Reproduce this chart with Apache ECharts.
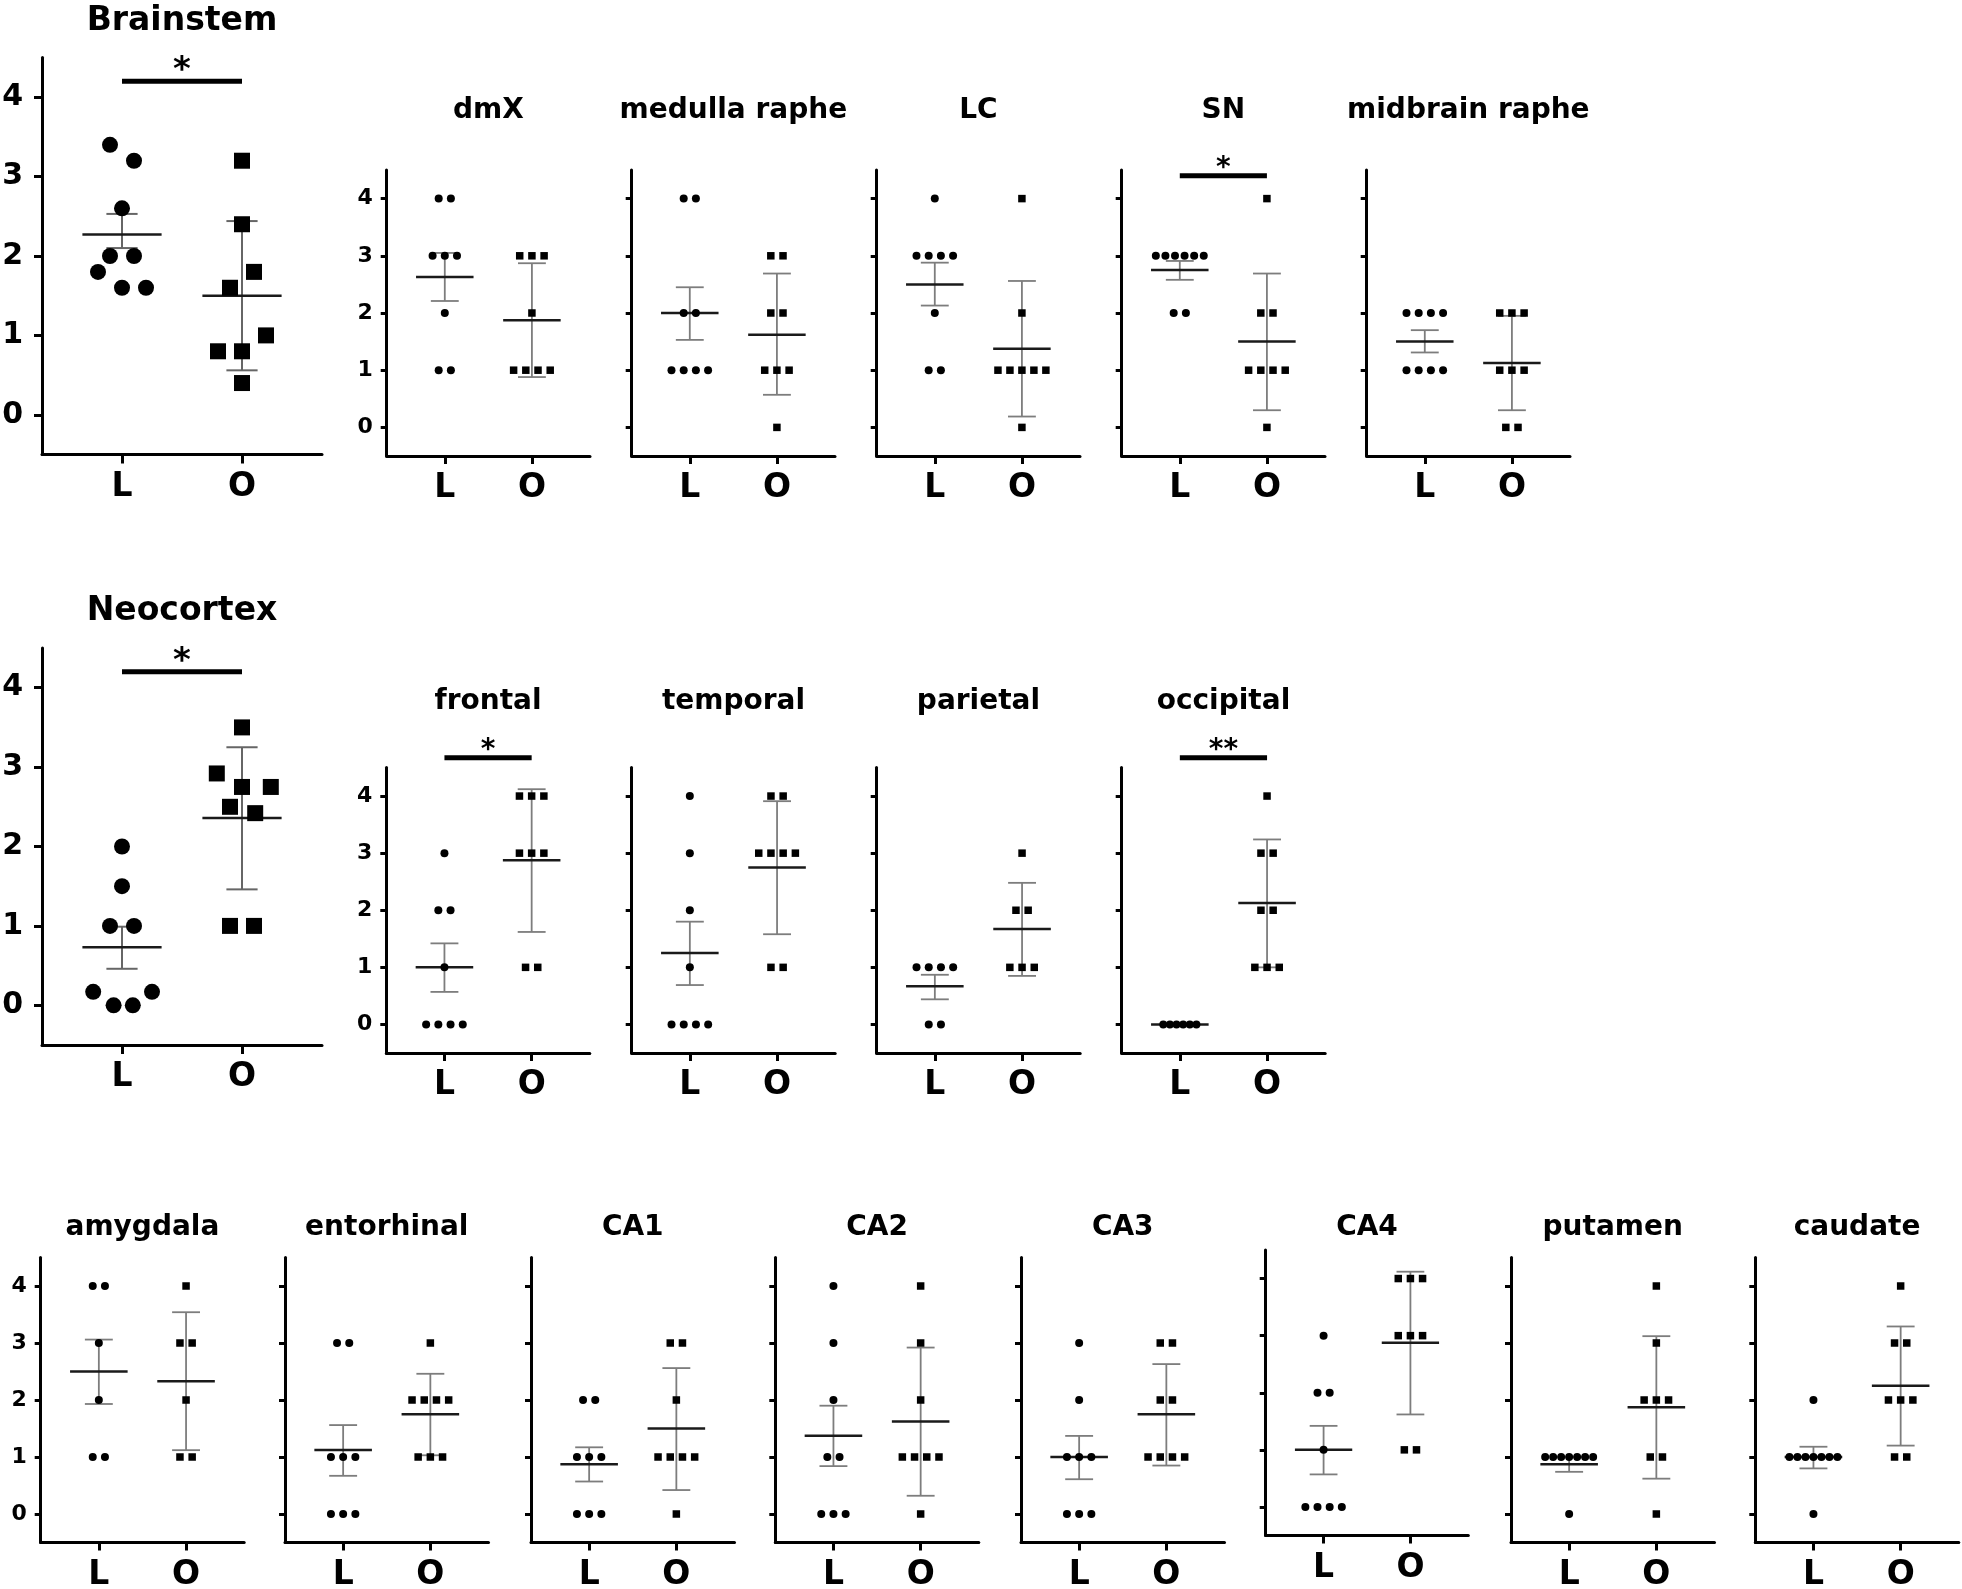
<!DOCTYPE html>
<html><head><meta charset="utf-8">
<script src="https://cdn.jsdelivr.net/npm/echarts@6/dist/echarts.min.js"></script>
<style>html,body{margin:0;padding:0;background:#fff}#chart{width:1962px;height:1589px}</style>
</head><body><div id="chart"></div>
<script>
// ---------- DATA ----------
const groupLabels = ['L', 'O'];
const yTickValues = [0, 1, 2, 3, 4];

// Brainstem (summary)
const brainstemL = [3.4, 3.2, 2.6, 2.0, 2.0, 1.8, 1.6, 1.6];
const brainstemLJitter = [-0.1, 0.1, 0, -0.1, 0.1, -0.2, 0, 0.2];
const brainstemO = [3.2, 2.4, 1.8, 1.6, 1.0, 0.8, 0.8, 0.4];
const brainstemOJitter = [0, 0, 0.1, -0.1, 0.2, -0.2, 0, 0];
const brainstemBars = [[2.27, 2.1, 2.53], [1.5, 0.56, 2.44]];   // [mean, low, high] for L, O
const brainstemSig = [4.2, '*'];

const dmxL = [4, 4, 3, 3, 3, 2, 1, 1];
const dmxO = [3, 3, 3, 2, 1, 1, 1, 1];
const dmxBars = [[2.63, 2.21, 3.05], [1.875, 0.88, 2.87]];

const medullaL = [4, 4, 2, 2, 1, 1, 1, 1];
const medullaO = [3, 3, 2, 2, 1, 1, 1, 0];
const medullaBars = [[2.0, 1.53, 2.45], [1.62, 0.57, 2.69]];

const lcL = [4, 3, 3, 3, 3, 2, 1, 1];
const lcO = [4, 2, 1, 1, 1, 1, 1, 0];
const lcBars = [[2.5, 2.13, 2.88], [1.375, 0.19, 2.56]];

const snL = [3, 3, 3, 3, 3, 3, 2, 2];
const snO = [4, 2, 2, 1, 1, 1, 1, 0];
const snBars = [[2.75, 2.58, 2.91], [1.5, 0.3, 2.69]];
const snSig = [4.4, '*'];

const midbrainL = [2, 2, 2, 2, 1, 1, 1, 1];
const midbrainO = [2, 2, 2, 1, 1, 1, 0, 0];
const midbrainBars = [[1.5, 1.31, 1.70], [1.125, 0.3, 1.95]];

// Neocortex (summary)
const neocortexL = [2.0, 1.5, 1.0, 1.0, 0.17, 0.17, 0, 0];
const neocortexLJitter = [0, 0, -0.1, 0.1, -0.24, 0.25, -0.07, 0.09];
const neocortexO = [3.5, 2.92, 2.75, 2.75, 2.5, 2.42, 1.0, 1.0];
const neocortexOJitter = [0, -0.21, 0, 0.24, -0.1, 0.11, -0.1, 0.1];
const neocortexBars = [[0.73, 0.46, 0.99], [2.36, 1.46, 3.25]];
const neocortexSig = [4.2, '*'];

const frontalL = [3, 2, 2, 1, 0, 0, 0, 0];
const frontalO = [4, 4, 4, 3, 3, 3, 1, 1];
const frontalBars = [[1.0, 0.57, 1.42], [2.875, 1.62, 4.12]];
const frontalSig = [4.67, '*'];

const temporalL = [4, 3, 2, 1, 0, 0, 0, 0];
const temporalO = [4, 4, 3, 3, 3, 3, 1, 1];
const temporalBars = [[1.25, 0.69, 1.80], [2.75, 1.58, 3.91]];

const parietalL = [1, 1, 1, 1, 0, 0];
const parietalO = [3, 2, 2, 1, 1, 1];
const parietalBars = [[0.67, 0.44, 0.87], [1.67, 0.85, 2.48]];

const occipitalL = [0, 0, 0, 0, 0, 0];
const occipitalO = [4, 3, 3, 2, 2, 1, 1, 1];
const occipitalBars = [[0, 0, 0], [2.125, 1.0, 3.24]];
const occipitalSig = [4.67, '**'];

// Other regions
const amygdalaL = [4, 4, 3, 2, 1, 1];
const amygdalaO = [4, 3, 3, 2, 1, 1];
const amygdalaBars = [[2.5, 1.93, 3.06], [2.33, 1.12, 3.54]];

const entorhinalL = [3, 3, 1, 1, 1, 0, 0, 0];
const entorhinalO = [3, 2, 2, 2, 2, 1, 1, 1];
const entorhinalBars = [[1.125, 0.67, 1.56], [1.75, 1.03, 2.46]];

const ca1L = [2, 2, 1, 1, 1, 0, 0, 0];
const ca1O = [3, 3, 2, 1, 1, 1, 1, 0];
const ca1Bars = [[0.875, 0.57, 1.17], [1.5, 0.42, 2.56]];

const ca2L = [4, 3, 2, 1, 1, 0, 0, 0];
const ca2O = [4, 3, 2, 1, 1, 1, 1, 0];
const ca2Bars = [[1.375, 0.84, 1.90], [1.625, 0.32, 2.92]];

const ca3L = [3, 2, 1, 1, 1, 0, 0, 0];
const ca3O = [3, 3, 2, 2, 1, 1, 1, 1];
const ca3Bars = [[1.0, 0.61, 1.37], [1.75, 0.85, 2.63]];

const ca4L = [3, 2, 2, 1, 0, 0, 0, 0];
const ca4O = [4, 4, 4, 3, 3, 3, 1, 1];
const ca4Bars = [[1.0, 0.57, 1.42], [2.875, 1.62, 4.12]];

const putamenL = [1, 1, 1, 1, 1, 1, 1, 0];
const putamenO = [4, 3, 2, 2, 2, 1, 1, 0];
const putamenBars = [[0.875, 0.74, 1.0], [1.875, 0.62, 3.12]];

const caudateL = [2, 1, 1, 1, 1, 1, 1, 1, 0];
const caudateO = [4, 3, 3, 2, 2, 2, 1, 1];
const caudateBars = [[1.0, 0.80, 1.18], [2.25, 1.2, 3.29]];

// ---------- PANELS (data references) ----------
const panels = [
  { key: 'brainstem', title: 'Brainstem', big: true, yLabels: true, L: brainstemL, O: brainstemO, LJ: brainstemLJitter, OJ: brainstemOJitter, bars: brainstemBars, sig: brainstemSig },
  { key: 'dmx', title: 'dmX', yLabels: true, L: dmxL, O: dmxO, bars: dmxBars },
  { key: 'medulla', title: 'medulla raphe', L: medullaL, O: medullaO, bars: medullaBars },
  { key: 'lc', title: 'LC', L: lcL, O: lcO, bars: lcBars },
  { key: 'sn', title: 'SN', L: snL, O: snO, bars: snBars, sig: snSig },
  { key: 'midbrain', title: 'midbrain raphe', L: midbrainL, O: midbrainO, bars: midbrainBars },
  { key: 'neocortex', title: 'Neocortex', big: true, yLabels: true, L: neocortexL, O: neocortexO, LJ: neocortexLJitter, OJ: neocortexOJitter, bars: neocortexBars, sig: neocortexSig },
  { key: 'frontal', title: 'frontal', yLabels: true, L: frontalL, O: frontalO, bars: frontalBars, sig: frontalSig },
  { key: 'temporal', title: 'temporal', L: temporalL, O: temporalO, bars: temporalBars },
  { key: 'parietal', title: 'parietal', L: parietalL, O: parietalO, bars: parietalBars },
  { key: 'occipital', title: 'occipital', L: occipitalL, O: occipitalO, bars: occipitalBars, sig: occipitalSig, spanL: 0.38 },
  { key: 'amygdala', title: 'amygdala', yLabels: true, L: amygdalaL, O: amygdalaO, bars: amygdalaBars },
  { key: 'entorhinal', title: 'entorhinal', L: entorhinalL, O: entorhinalO, bars: entorhinalBars },
  { key: 'ca1', title: 'CA1', L: ca1L, O: ca1O, bars: ca1Bars },
  { key: 'ca2', title: 'CA2', L: ca2L, O: ca2O, bars: ca2Bars },
  { key: 'ca3', title: 'CA3', L: ca3L, O: ca3O, bars: ca3Bars },
  { key: 'ca4', title: 'CA4', L: ca4L, O: ca4O, bars: ca4Bars },
  { key: 'putamen', title: 'putamen', L: putamenL, O: putamenO, bars: putamenBars },
  { key: 'caudate', title: 'caudate', L: caudateL, O: caudateO, bars: caudateBars }
];

// ---------- LAYOUT (pixels): [left, top, width, height, titleCenterY] ----------
const R1 = [170, 286, 111], R2 = [767.5, 285.5, 701.7], R3 = [1257.5, 285, 1227.7];
const layout = {
  brainstem: [42, 57.5, 280, 397, 21],
  dmx: [386.7, R1[0], 203.3, R1[1], R1[2]],
  medulla: [631.7, R1[0], 203.3, R1[1], R1[2]],
  lc: [876.7, R1[0], 203.3, R1[1], R1[2]],
  sn: [1121.7, R1[0], 203.3, R1[1], R1[2]],
  midbrain: [1366.7, R1[0], 203.3, R1[1], R1[2]],
  neocortex: [42, 648, 280, 397, 611],
  frontal: [386.3, R2[0], 203.5, R2[1], R2[2]],
  temporal: [631.7, R2[0], 203.5, R2[1], R2[2]],
  parietal: [876.7, R2[0], 203.5, R2[1], R2[2]],
  occipital: [1121.7, R2[0], 203.5, R2[1], R2[2]],
  amygdala: [40.7, R3[0], 203.5, R3[1], R3[2]],
  entorhinal: [285, R3[0], 203.5, R3[1], R3[2]],
  ca1: [531, R3[0], 203.5, R3[1], R3[2]],
  ca2: [775.3, R3[0], 203.5, R3[1], R3[2]],
  ca3: [1021, R3[0], 203.5, R3[1], R3[2]],
  ca4: [1265.7, 1250, 202.6, 285.5, R3[2]],
  putamen: [1511, R3[0], 203.5, R3[1], R3[2]],
  caudate: [1755.3, R3[0], 203.5, R3[1], R3[2]]
};

const FONT = '"DejaVu Sans", "Liberation Sans", sans-serif';

// symmetric side-by-side placement of equal values (layout only)
function swarm(vals, maxSpan) {
  const span = maxSpan || 0.55;
  const groups = {};
  vals.forEach((v, k) => { (groups[v] = groups[v] || []).push(k); });
  const off = new Array(vals.length).fill(0);
  Object.values(groups).forEach(idx => {
    const n = idx.length;
    if (n < 2) return;
    const s = Math.min(0.14, span / (n - 1));
    idx.forEach((k, j) => { off[k] = j * s - (n - 1) * s / 2; });
  });
  return off;
}

const grids = [], xAxes = [], yAxes = [], series = [], graphics = [];
panels.forEach((p, i) => {
  const [left, top, width, height, titleY] = layout[p.key];
  const big = !!p.big;
  grids.push({ left, top, width, height, containLabel: false, outerBoundsMode: 'none' });
  const axisLineStyle = { color: '#000', width: 3 };
  xAxes.push({
    type: 'value', gridIndex: i, min: 1 / 3, max: 8 / 3,
    splitLine: { show: false },
    axisLine: { show: true, onZero: false, lineStyle: axisLineStyle },
    axisTick: { show: true, customValues: [1, 2], length: big ? 9 : 8, lineStyle: axisLineStyle },
    axisLabel: { show: true, customValues: [1, 2], formatter: v => groupLabels[Math.round(v) - 1],
      margin: 16, color: '#000', fontFamily: FONT, fontWeight: 'bold', fontSize: 33, hideOverlap: false }
  });
  yAxes.push({
    type: 'value', gridIndex: i, min: -0.5, max: 4.5,
    splitLine: { show: false },
    axisLine: { show: true, onZero: false, lineStyle: axisLineStyle },
    axisTick: { show: true, customValues: yTickValues, length: big ? 8 : 6, lineStyle: axisLineStyle },
    axisLabel: { show: !!p.yLabels, customValues: yTickValues, margin: big ? 19 : 14,
      color: '#000', fontFamily: FONT, fontWeight: 'bold', fontSize: big ? 30 : 22 }
  });

  // error bars (mean line + whisker + caps)
  const capW = big ? 0.13 : 0.16, meanW = 0.33;
  series.push({
    type: 'custom', xAxisIndex: i, yAxisIndex: i, z: 2, silent: true,
    encode: { x: 0, y: [1, 2, 3] },
    data: p.bars.map((b, k) => [k + 1, b[0], b[1], b[2]]),
    renderItem: (params, api) => {
      const x = api.value(0), m = api.value(1), lo = api.value(2), hi = api.value(3);
      const c = (xx, yy) => api.coord([xx, yy]);
      const gray = { stroke: big ? '#666' : '#7d7d7d', lineWidth: big ? 2 : 1.8 };
      const pLo = c(x, lo), pHi = c(x, hi);
      const cl1 = c(x - capW, lo), cl2 = c(x + capW, lo);
      const ch1 = c(x - capW, hi), ch2 = c(x + capW, hi);
      const m1 = c(x - meanW, m), m2 = c(x + meanW, m);
      return { type: 'group', children: [
        { type: 'line', shape: { x1: pLo[0], y1: pLo[1], x2: pHi[0], y2: pHi[1] }, style: gray },
        { type: 'line', shape: { x1: cl1[0], y1: cl1[1], x2: cl2[0], y2: cl2[1] }, style: gray },
        { type: 'line', shape: { x1: ch1[0], y1: ch1[1], x2: ch2[0], y2: ch2[1] }, style: gray },
        { type: 'line', shape: { x1: m1[0], y1: m1[1], x2: m2[0], y2: m2[1] }, style: { stroke: '#1a1a1a', lineWidth: 2.5 } }
      ] };
    }
  });

  const jL = p.LJ || swarm(p.L, p.spanL);
  const jO = p.OJ || swarm(p.O, p.spanO);
  series.push({
    type: 'scatter', xAxisIndex: i, yAxisIndex: i, z: 3, silent: true,
    symbol: 'circle', symbolSize: big ? 16 : 8, itemStyle: { color: '#000', opacity: 1 },
    data: p.L.map((v, k) => [1 + jL[k], v])
  });
  series.push({
    type: 'scatter', xAxisIndex: i, yAxisIndex: i, z: 3, silent: true,
    symbol: 'rect', symbolSize: big ? 16 : 7.5, itemStyle: { color: '#000', opacity: 1 },
    data: p.O.map((v, k) => [2 + jO[k], v])
  });

  if (p.sig) {
    series.push({
      type: 'custom', xAxisIndex: i, yAxisIndex: i, z: 4, silent: true, clip: false,
      encode: { x: [0, 1], y: 2 },
      data: [[1, 2, p.sig[0]]],
      renderItem: (params, api) => {
        const a = api.coord([api.value(0), api.value(2)]);
        const b = api.coord([api.value(1), api.value(2)]);
        return { type: 'group', children: [
          { type: 'rect', shape: { x: a[0], y: a[1] - 2.5, width: b[0] - a[0], height: 5 }, style: { fill: '#000' } },
          { type: 'text', style: { text: p.sig[1], x: (a[0] + b[0]) / 2, y: a[1] - (big ? 10 : 7),
              align: 'center', verticalAlign: 'middle', font: 'bold ' + (big ? 34 : 28) + 'px ' + FONT, fill: '#000' } }
        ] };
      }
    });
  }

  graphics.push({
    type: 'text', x: left + width / 2, y: titleY, silent: true,
    style: { text: p.title, align: 'center', verticalAlign: 'middle',
      font: 'bold ' + (big ? 33 : 28) + 'px ' + FONT, fill: '#000' }
  });
});

const chart = echarts.init(document.getElementById('chart'), null, { renderer: 'canvas' });
chart.setOption({
  backgroundColor: '#fff',
  animation: false,
  grid: grids,
  xAxis: xAxes,
  yAxis: yAxes,
  series: series,
  graphic: graphics
});
</script>
</body></html>
